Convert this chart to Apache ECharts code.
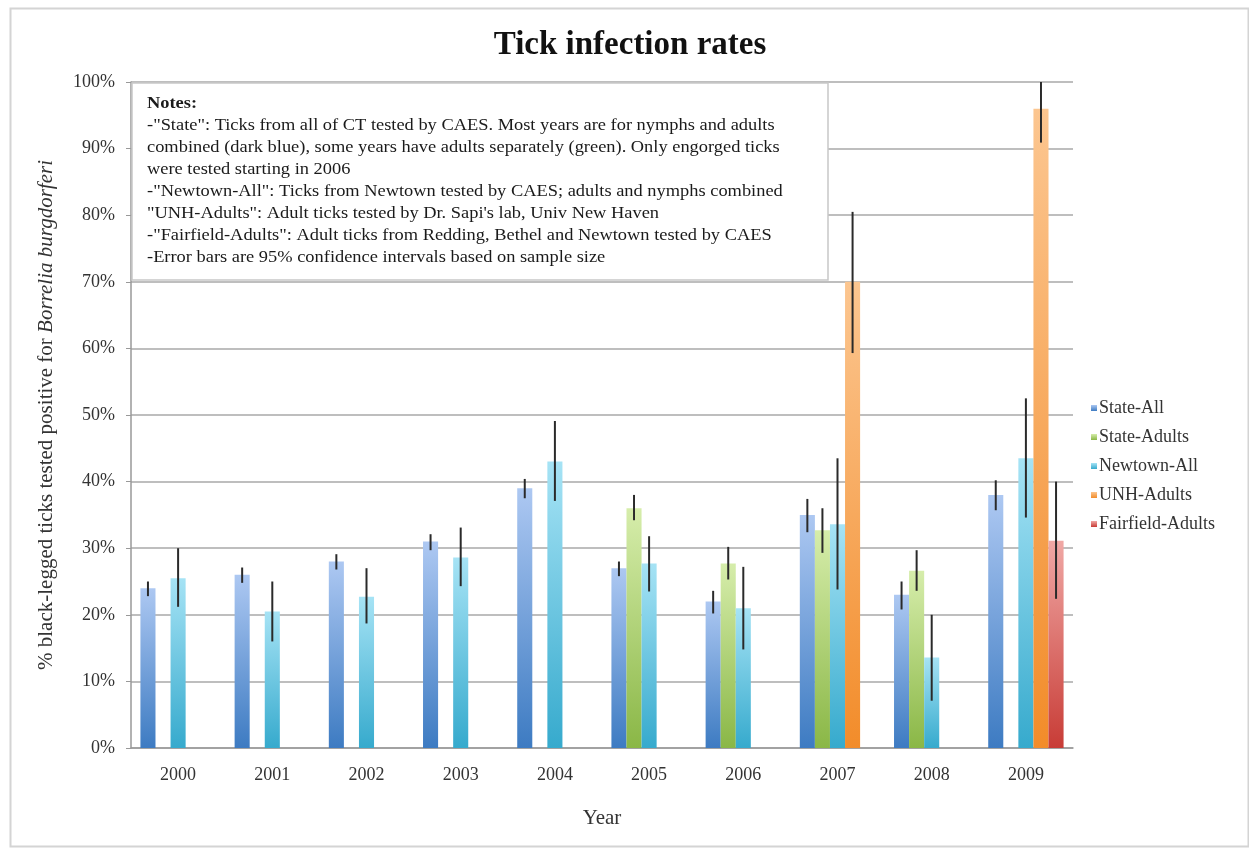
<!DOCTYPE html>
<html>
<head>
<meta charset="utf-8">
<script src="https://cdn.jsdelivr.net/npm/echarts@6/dist/echarts.min.js"></script>
<style>
  html, body { margin: 0; padding: 0; background: #fff; }
  #main { width: 1249px; height: 848px; }
</style>
</head>
<body>
<div id="main"></div>
<script>
const years = ['2000', '2001', '2002', '2003', '2004', '2005', '2006', '2007', '2008', '2009'];
const seriesNames = ['State-All', 'State-Adults', 'Newtown-All', 'UNH-Adults', 'Fairfield-Adults'];

// values in percent
const stateAll = [24, 26, 28, 31, 39, 27, 22, 35, 23, 38];
const stateAdults = [null, null, null, null, null, 36, 27.7, 32.7, 26.6, null];
const newtownAll = [25.5, 20.5, 22.7, 28.6, 43, 27.7, 21, 33.6, 13.6, 43.5];
const unhAdults = [null, null, null, null, null, null, null, 70, null, 96];
const fairfieldAdults = [null, null, null, null, null, null, null, null, null, 31.1];

// 95% confidence intervals [low, high]
const stateAllErr = [[22.8, 25], [24.8, 27.1], [26.8, 29.1], [29.7, 32.1], [37.5, 40.4], [25.8, 28], [20.2, 23.6], [32.4, 37.4], [20.8, 25], [35.7, 40.2]];
const stateAdultsErr = [null, null, null, null, null, [34.2, 38], [25.3, 30.2], [29.3, 36], [23.6, 29.7], null];
const newtownAllErr = [[21.2, 30], [16, 25], [18.7, 27], [24.3, 33.1], [37.1, 49.1], [23.5, 31.8], [14.8, 27.2], [23.8, 43.5], [7.1, 20], [34.6, 52.5]];
const unhAdultsErr = [null, null, null, null, null, null, null, [59.3, 80.5], null, [90.9, 100]];
const fairfieldAdultsErr = [null, null, null, null, null, null, null, null, null, [22.4, 40]];

const notes = [
  '-"State": Ticks from all of CT tested by CAES. Most years are for nymphs and adults',
  'combined (dark blue), some years have adults separately (green). Only engorged ticks',
  'were tested starting in 2006',
  '-"Newtown-All": Ticks from Newtown tested by CAES; adults and nymphs combined',
  '"UNH-Adults": Adult ticks tested by Dr. Sapi\'s lab, Univ New Haven',
  '-"Fairfield-Adults": Adult ticks from Redding, Bethel and Newtown tested by CAES',
  '-Error bars are 95% confidence intervals based on sample size'
];

const FONT = '"Liberation Serif", "Times New Roman", serif';
const CAT_GAP = 0.2;
const N = 5;

const colors = [
  ['#adc8f2', '#3d7bc2'],
  ['#d6edab', '#8ab746'],
  ['#a6e3f5', '#36aacd'],
  ['#fcc690', '#f28c2a'],
  ['#f0a8a5', '#c83c36']
];

function grad(c) {
  return new echarts.graphic.LinearGradient(0, 0, 0, 1, [
    { offset: 0, color: c[0] },
    { offset: 1, color: c[1] }
  ]);
}

const values = [stateAll, stateAdults, newtownAll, unhAdults, fairfieldAdults];
const errs = [stateAllErr, stateAdultsErr, newtownAllErr, unhAdultsErr, fairfieldAdultsErr];

const barSeries = values.map((vals, i) => ({
  name: seriesNames[i],
  type: 'bar',
  data: vals,
  barGap: '0%',
  barCategoryGap: (CAT_GAP * 100) + '%',
  itemStyle: { color: grad(colors[i]) },
  z: 2
}));

// error bars sit on the centre of their bar in the group
const errSeries = errs.map((list, i) => ({
  type: 'custom',
  name: seriesNames[i] + '-err',
  data: list.map((e, k) => e ? [k, e[0], e[1]] : null).filter(Boolean),
  encode: { x: 0, y: [1, 2] },
  z: 5,
  silent: true,
  renderItem: function (params, api) {
    const k = api.value(0);
    const lo = api.coord([k, api.value(1)]);
    const hi = api.coord([k, api.value(2)]);
    const catW = api.size([1, 0])[0];
    const barW = catW * (1 - CAT_GAP) / N;
    const x = lo[0] + (i - (N - 1) / 2) * barW;
    return {
      type: 'line',
      shape: { x1: x, y1: lo[1], x2: x, y2: hi[1] },
      style: { stroke: '#2a2a2a', lineWidth: 2 }
    };
  }
}));

const chart = echarts.init(document.getElementById('main'));

chart.setOption({
  animation: false,
  backgroundColor: '#fff',
  title: {
    text: 'Tick infection rates',
    left: 625,
    textAlign: 'center',
    top: 24,
    textStyle: { fontFamily: FONT, fontSize: 33, fontWeight: 'bold', color: '#111' }
  },
  legend: {
    data: seriesNames,
    orient: 'vertical',
    left: 1086,
    top: 394,
    itemWidth: 6,
    itemHeight: 6,
    itemGap: 11,
    icon: 'rect',
    textStyle: { fontFamily: FONT, fontSize: 18, color: '#333', padding: [0, 0, 0, -3] }
  },
  grid: { left: 131, right: 176, top: 82, bottom: 100 },
  xAxis: {
    type: 'category',
    data: years,
    name: 'Year',
    nameLocation: 'middle',
    nameGap: 60,
    nameTextStyle: { fontFamily: FONT, fontSize: 21, color: '#333' },
    axisLine: { lineStyle: { color: '#999', width: 1.5 } },
    axisTick: { length: 5, lineStyle: { color: '#999' } },
    axisLabel: { fontFamily: FONT, fontSize: 18, color: '#333', margin: 18 }
  },
  yAxis: {
    type: 'value',
    min: 0,
    max: 100,
    interval: 10,
    name: '{n|% black-legged ticks tested positive for }{i|Borrelia burgdorferi}',
    nameLocation: 'middle',
    nameRotate: 90,
    nameGap: 74,
    nameTextStyle: {
      rich: {
        n: { fontFamily: FONT, fontSize: 21, color: '#333' },
        i: { fontFamily: FONT, fontSize: 21, color: '#333', fontStyle: 'italic' }
      }
    },
    axisLine: { show: true, lineStyle: { color: '#999', width: 1.5 } },
    axisTick: { show: true, length: 5, lineStyle: { color: '#999' } },
    axisLabel: { fontFamily: FONT, fontSize: 18, color: '#333', margin: 16, formatter: '{value}%' },
    splitLine: { lineStyle: { color: '#a8a8a8', width: 1.5 } }
  },
  graphic: [
    {
      type: 'rect',
      left: 8, top: 6,
      shape: { width: 1238, height: 838 },
      style: { fill: 'none', stroke: '#d4d4d4', lineWidth: 2 },
      silent: true
    },
    {
      type: 'rect',
      x: 132, y: 83,
      shape: { width: 696, height: 197 },
      style: { fill: '#fff', stroke: '#c8c8c8', lineWidth: 1.5 },
      z: 10
    },
    {
      type: 'text',
      x: 147, y: 93,
      scaleX: 1.15,
      z: 11,
      style: {
        text: '{b|Notes:}\n' + notes.join('\n'),
        fontFamily: FONT,
        fontSize: 16,
        lineHeight: 22,
        fill: '#1a1a1a',
        rich: {
          b: { fontFamily: FONT, fontSize: 16, fontWeight: 'bold', fill: '#1a1a1a', lineHeight: 22 }
        }
      }
    }
  ],
  series: barSeries.concat(errSeries)
});
</script>
</body>
</html>
